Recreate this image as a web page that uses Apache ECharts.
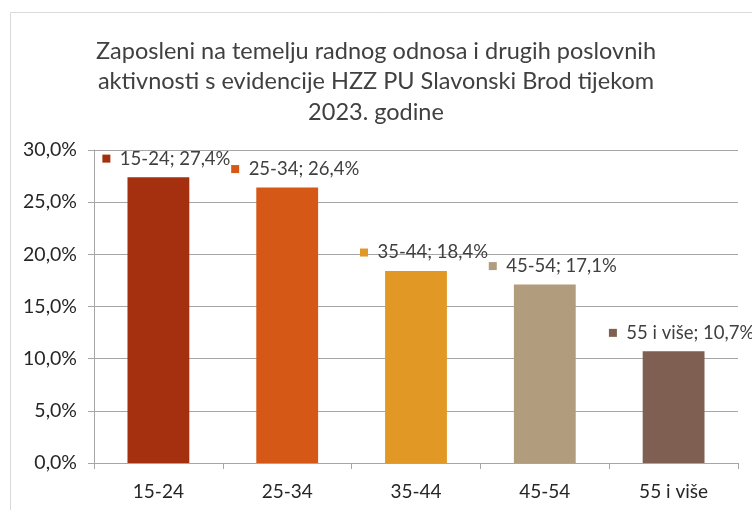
<!DOCTYPE html>
<html><head><meta charset="utf-8">
<script src="https://cdn.jsdelivr.net/npm/echarts@6/dist/echarts.min.js"></script>
<style>html,body{margin:0;padding:0;background:#fff}#c{width:752px;height:510px}</style>
</head><body><div id="c"></div>
<script>
const titleText = 'Zaposleni na temelju radnog odnosa i drugih poslovnih\naktivnosti s evidencije HZZ PU Slavonski Brod tijekom\n2023. godine';
const categories = ['15-24', '25-34', '35-44', '45-54', '55 i više'];
const values = [27.4, 26.4, 18.4, 17.1, 10.7];
const colors = ['#A5300F', '#D55816', '#E19825', '#B19C7D', '#7F5F52'];
const yTicks = [0, 5, 10, 15, 20, 25, 30];

const FONT = 'Lato';
const fmt = v => v.toFixed(1).replace('.', ',') + '%';
const rich = {t: {fontFamily: FONT, fontSize: 18.5, color: '#404040'}};
colors.forEach((c, i) => { rich['s' + i] = {width: 8, height: 8, backgroundColor: c}; });

const chart = echarts.init(document.getElementById('c'), null, {renderer: 'canvas'});
chart.setOption({
  animation: false,
  backgroundColor: '#fff',
  graphic: [{type: 'rect', shape: {x: 10.5, y: 12.5, width: 800, height: 600}, style: {fill: 'none', stroke: '#d9d9d9', lineWidth: 1}, silent: true}],
  title: {
    text: titleText, left: 'center', top: 31,
    textStyle: {fontFamily: FONT, fontSize: 23.5, fontWeight: 'normal', color: '#404040', lineHeight: 30.5}
  },
  grid: {left: 94, right: 14, top: 150, bottom: 47, containLabel: false},
  xAxis: {
    type: 'category', data: categories,
    axisLine: {lineStyle: {color: '#a6a6a6'}},
    axisTick: {show: true, alignWithLabel: false, length: 6, lineStyle: {color: '#a6a6a6'}},
    axisLabel: {fontFamily: FONT, fontSize: 19, color: '#262626', margin: 19}
  },
  yAxis: {
    type: 'value', min: yTicks[0], max: yTicks[yTicks.length - 1], interval: 5,
    axisLine: {show: true, lineStyle: {color: '#a6a6a6'}},
    axisTick: {show: true, length: 6, lineStyle: {color: '#a6a6a6'}},
    splitLine: {lineStyle: {color: '#a6a6a6'}},
    axisLabel: {fontFamily: FONT, fontSize: 19.5, color: '#262626', margin: 17, formatter: v => v.toFixed(1).replace('.', ',') + '%'}
  },
  series: [{
    type: 'bar', barWidth: '48%',
    data: values.map((v, i) => ({value: v, itemStyle: {color: colors[i]}})),
    label: {
      show: true, position: 'top', distance: 9, offset: [8, 0],
      formatter: p => '{s' + p.dataIndex + '|}{t|  ' + categories[p.dataIndex] + '; ' + fmt(p.value) + '}',
      rich: rich
    }
  }]
});
</script></body></html>
